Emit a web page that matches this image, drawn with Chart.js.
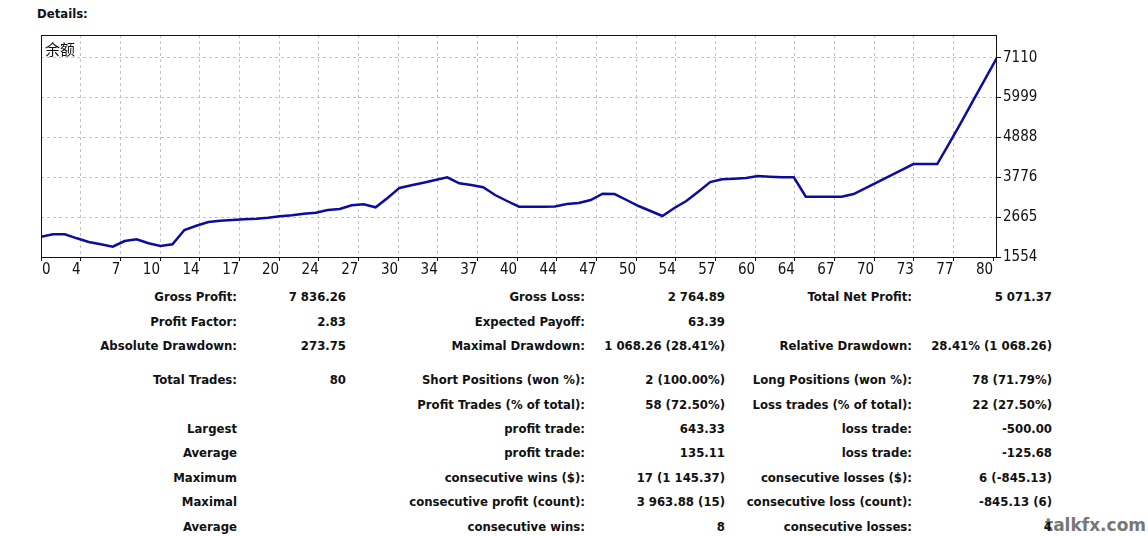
<!DOCTYPE html>
<html>
<head>
<meta charset="utf-8">
<script src="https://cdn.jsdelivr.net/npm/chart.js@4.4.0/dist/chart.umd.min.js"></script>
<style>
    body { margin: 0; background: #fff; width: 1148px; height: 536px; position: relative; overflow: hidden;
           font-family: "DejaVu Sans Condensed", "DejaVu Sans", sans-serif; }
    #title { position: absolute; left: 37px; top: 6px; font-weight: bold; font-size: 13px; color: #111; }
    #chart-box { position: absolute; left: 0; top: 0; width: 1148px; height: 285px; }
    #stats { position: absolute; left: 0; top: 0; z-index: 2; }
    .cell { position: absolute; font-weight: bold; font-size: 13px; color: #111; white-space: nowrap;
            line-height: 16px; text-align: right; }
    #watermark { position: absolute; left: 1045px; top: 515px; z-index: 1; font-family: "DejaVu Sans", sans-serif;
                 font-weight: bold; font-size: 17px; color: #777;
                 text-shadow: 0 0 2px #fff, 0 0 2px #fff; }
</style>
</head>
<body>
<div id="title">Details:</div>
<div id="chart-box"><canvas id="balance-chart"></canvas></div>
<div id="watermark">talkfx.com</div>
<div id="stats"></div>
<script>
// balance after each trade (trade 0 = start)
const balance = [
    2120, 2187, 2187, 2075, 1972, 1908, 1841, 1999, 2047, 1936,
    1861, 1908, 2306, 2426, 2530, 2566, 2585, 2605, 2622, 2650,
    2688, 2716, 2761, 2789, 2864, 2892, 2995, 3023, 2939, 3198,
    3480, 3552, 3625, 3700, 3775, 3608, 3561, 3497, 3282, 3115,
    2956, 2956, 2956, 2965, 3031, 3059, 3143, 3318, 3310, 3143,
    2975, 2836, 2697, 2920, 3115, 3374, 3644, 3719, 3736, 3756,
    3811, 3792, 3775, 3775, 3235, 3235, 3235, 3235, 3310, 3477,
    3644, 3811, 3979, 4146, 4146, 4146, 4720, 5308, 5913, 6515,
    7110
];
const seriesName = "余额";

const xTickLabels = ["0", "4", "7", "10", "14", "17", "20", "24", "27", "30", "34", "37", "40",
                     "44", "47", "50", "54", "57", "60", "64", "67", "70", "73", "77", "80"];
const xGridStep = 3.32; // trades between grid lines
const yTickValues = [1554, 2665.2, 3776.4, 4887.6, 5998.8, 7110];
const yTickLabels = ["1554", "2665", "3776", "4888", "5999", "7110"];
const yMin = 1554;
const yMax = 7743;

const statRows = [
    ["Gross Profit:", "7 836.26", "Gross Loss:", "2 764.89", "Total Net Profit:", "5 071.37"],
    ["Profit Factor:", "2.83", "Expected Payoff:", "63.39", "", ""],
    ["Absolute Drawdown:", "273.75", "Maximal Drawdown:", "1 068.26 (28.41%)", "Relative Drawdown:", "28.41% (1 068.26)"],
    ["Total Trades:", "80", "Short Positions (won %):", "2 (100.00%)", "Long Positions (won %):", "78 (71.79%)"],
    ["", "", "Profit Trades (% of total):", "58 (72.50%)", "Loss trades (% of total):", "22 (27.50%)"],
    ["Largest", "", "profit trade:", "643.33", "loss trade:", "-500.00"],
    ["Average", "", "profit trade:", "135.11", "loss trade:", "-125.68"],
    ["Maximum", "", "consecutive wins ($):", "17 (1 145.37)", "consecutive losses ($):", "6 (-845.13)"],
    ["Maximal", "", "consecutive profit (count):", "3 963.88 (15)", "consecutive loss (count):", "-845.13 (6)"],
    ["Average", "", "consecutive wins:", "8", "consecutive losses:", "4"]
];

// layout of the stats table
const rowCenters = [297, 322, 346, 380, 405, 429, 453, 478, 502, 527];
const colRightEdges = [237, 346, 585, 725, 912, 1052];

document.addEventListener("DOMContentLoaded", () => {
    const stats = document.getElementById("stats");
    statRows.forEach((row, r) => {
        row.forEach((text, c) => {
            if (!text) return;
            const div = document.createElement("div");
            div.className = "cell";
            div.textContent = text;
            div.style.left = (colRightEdges[c] - 300) + "px";
            div.style.width = "300px";
            div.style.top = (rowCenters[r] - 8) + "px";
            stats.appendChild(div);
        });
    });

    const xTickValues = xTickLabels.map((_, k) => k * xGridStep);
    const points = balance.map((v, i) => ({ x: i, y: v }));

    const framePlugin = {
        id: "frame",
        beforeDraw(chart) {
            // MT4 draws the first label starting at the left edge
            const items = chart.scales.x.getLabelItems(chart.chartArea);
            if (items.length) {
                items[0].options.textAlign = "left";
                items[0].options.translation[0] = chart.chartArea.left + 1;
            }
        },
        afterDraw(chart) {
            const { ctx, chartArea: a } = chart;
            ctx.save();
            ctx.strokeStyle = "#111";
            ctx.lineWidth = 1;
            ctx.strokeRect(a.left + 0.5, a.top + 0.5, a.right - a.left - 1, a.bottom - a.top);
            ctx.fillStyle = "#111";
            ctx.font = '15px "Noto Sans CJK SC"';
            ctx.textBaseline = "middle";
            ctx.fillText(seriesName, a.left + 4, a.top + 14);
            ctx.restore();
        }
    };

    const ctx = document.getElementById("balance-chart").getContext("2d");
    new Chart(ctx, {
        type: "line",
        data: {
            datasets: [{
                label: seriesName,
                data: points,
                borderColor: "#0c0c9e",
                borderWidth: 2.5,
                pointRadius: 0,
                tension: 0,
                fill: false
            }]
        },
        options: {
            responsive: true,
            maintainAspectRatio: false,
            animation: false,
            layout: { padding: { left: 41, top: 35, right: 91, bottom: 0 } },
            plugins: { legend: { display: false }, tooltip: { enabled: false } },
            scales: {
                x: {
                    type: "linear",
                    min: 0,
                    max: 80,
                    afterBuildTicks: (scale) => { scale.ticks = xTickValues.map(v => ({ value: v })); },
                    afterFit: (scale) => { scale.height = 28; },
                    grid: {
                        color: (c) => (c.index === 0 || c.index === xTickValues.length - 1) ? "rgba(0,0,0,0)" : "#c4c4c4",
                        tickColor: "#111",
                        tickLength: 4
                    },
                    border: { display: false, dash: [3, 3] },
                    ticks: {
                        autoSkip: false,
                        maxRotation: 0,
                        align: "end",
                        padding: 0,
                        color: "#111",
                        font: { family: '"DejaVu Sans Condensed", "DejaVu Sans"', size: 15 },
                        callback: (value, index) => xTickLabels[index]
                    }
                },
                y: {
                    position: "right",
                    min: yMin,
                    max: yMax,
                    afterBuildTicks: (scale) => { scale.ticks = yTickValues.map(v => ({ value: v })); },
                    afterFit: (scale) => { scale.width = 60; },
                    grid: {
                        color: (c) => c.index === 0 ? "rgba(0,0,0,0)" : "#c4c4c4",
                        tickColor: "#111",
                        tickLength: 4
                    },
                    border: { display: false, dash: [3, 3] },
                    ticks: {
                        autoSkip: false,
                        padding: 2,
                        color: "#111",
                        font: { family: '"DejaVu Sans Condensed", "DejaVu Sans"', size: 15 },
                        callback: (value, index) => yTickLabels[index]
                    }
                }
            }
        },
        plugins: [framePlugin]
    });
});
</script>
</body>
</html>
